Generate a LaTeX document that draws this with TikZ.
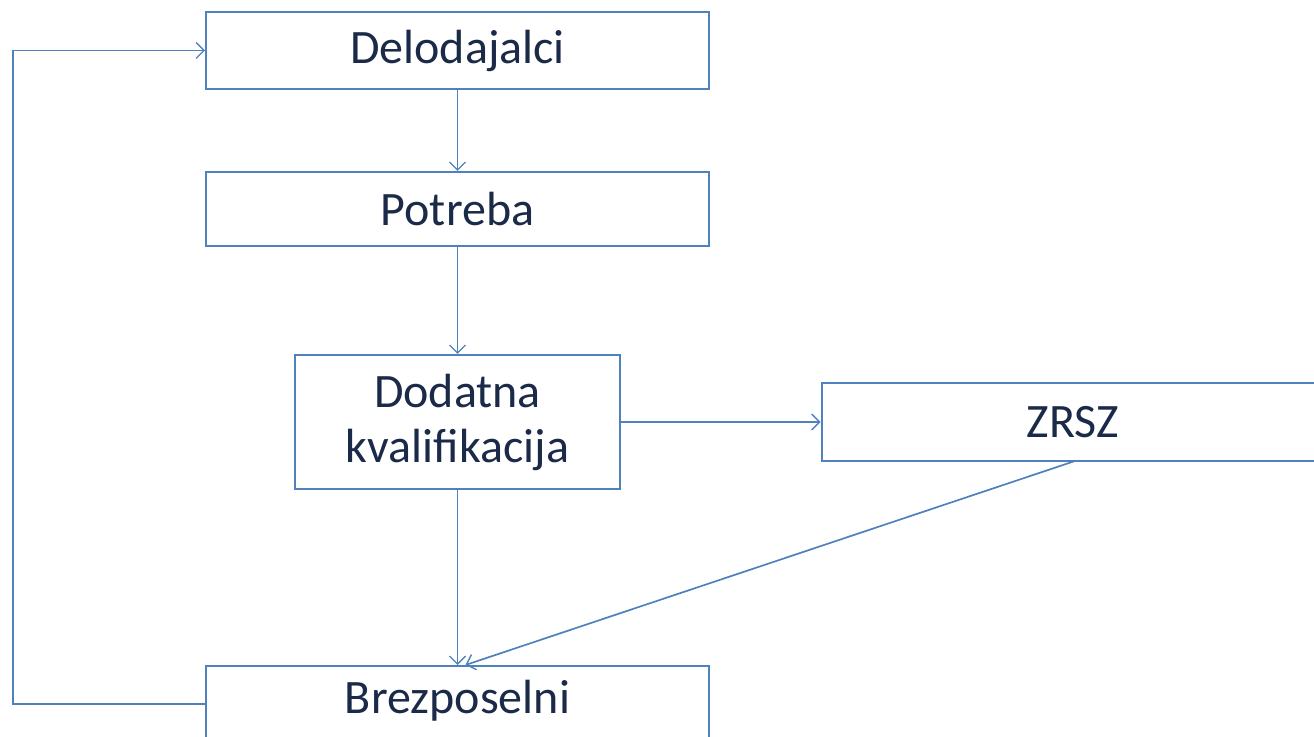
\documentclass[tikz,border=0pt]{standalone}
\usepackage{fontspec}
\setmainfont{Carlito}
\usetikzlibrary{arrows.meta}
\definecolor{boxblue}{HTML}{4F81BD}
\definecolor{txt}{HTML}{1B2A48}
\begin{document}
\begin{tikzpicture}[x=0.5pt,y=-0.5pt,
  box/.style={draw=boxblue,line width=1pt,fill=white,minimum width=251.5pt,inner sep=0pt,
     font=\fontsize{24}{27.5}\selectfont,text=txt,align=center},
  conn/.style={draw=boxblue,line width=0.85pt,-{Straight Barb[length=4pt,width=8pt,line width=0.7pt]}}]
\useasboundingbox (0,0) rectangle (1314,737);
\clip (0,0) rectangle (1314,737);
\node[box,minimum height=38.5pt] (del) at (457.5,50.5) {Delodajalci};
\node[box,minimum height=37pt] (pot) at (457.5,209) {Potreba};
\node[box,minimum width=162.5pt,minimum height=67pt] (dod) at (457.5,422) {Dodatna\\kvalifikacija};
\node[box,minimum height=39pt] (zrsz) at (1073,422) {ZRSZ};
\node[box,minimum height=38pt] (brez) at (457.5,704) {};
\node[font=\fontsize{24}{27.5}\selectfont,text=txt] (brezt) at (457.5,701) {Brezposelni};
\coordinate (lb) at (13,704);
\coordinate (lt) at (lb |- del.west);
\coordinate (zs) at (1075,461);
\draw[conn] (del.south) -- (pot.north);
\draw[conn] (pot.south) -- (dod.north);
\draw[conn] (dod.east) -- (zrsz.west);
\draw[conn] (dod.south) -- (brez.north);
\draw[conn] (zs) -- ([xshift=4pt]brez.north);
\draw[conn] (brez.west) -- (lb) -- (lt) -- (del.west);
\end{tikzpicture}
\end{document}
